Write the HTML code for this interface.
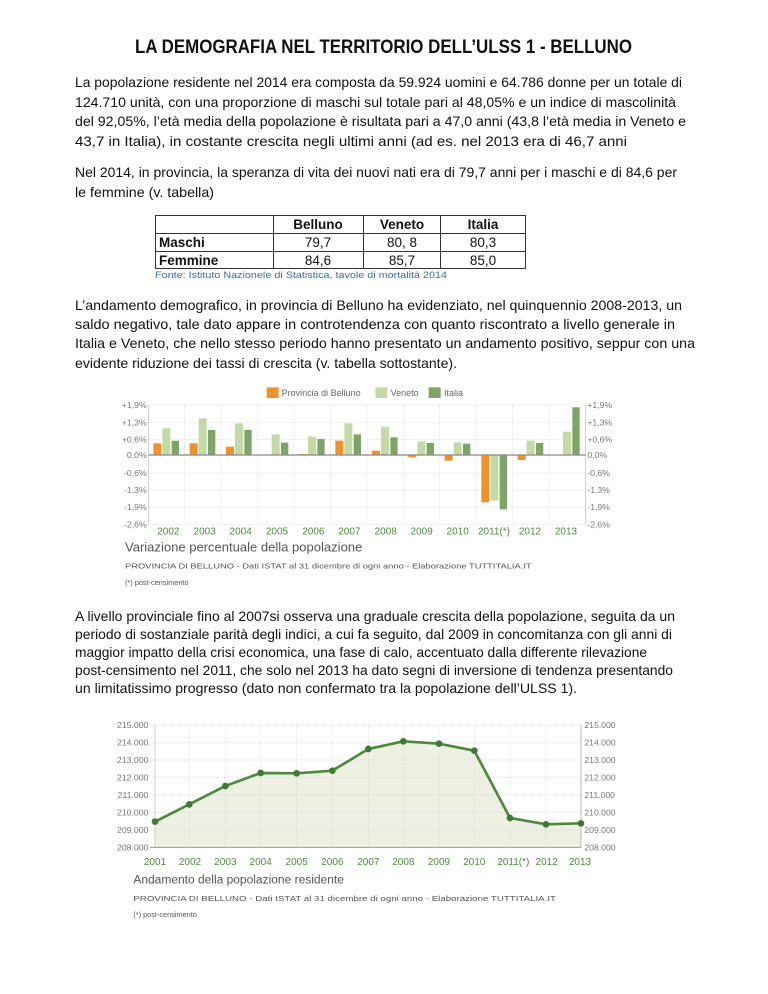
<!DOCTYPE html>
<html><head><meta charset="utf-8"><style>html,body{margin:0;padding:0;background:#fff}svg{display:block}</style></head><body>
<svg width="768" height="994" viewBox="0 0 768 994" xmlns="http://www.w3.org/2000/svg" font-family="Liberation Sans, sans-serif">
<g fill="#111" font-size="14">
<text x="135" y="53" font-size="19" font-weight="bold" textLength="497" lengthAdjust="spacingAndGlyphs">LA DEMOGRAFIA NEL TERRITORIO DELL’ULSS 1 - BELLUNO</text>
<text x="75" y="87" textLength="607" lengthAdjust="spacingAndGlyphs">La popolazione residente nel 2014 era composta da 59.924 uomini e 64.786 donne per un totale di</text>
<text x="75" y="107" textLength="601" lengthAdjust="spacingAndGlyphs">124.710 unità, con una proporzione di maschi sul totale pari al 48,05% e un indice di mascolinità</text>
<text x="75" y="126" textLength="611" lengthAdjust="spacingAndGlyphs">del 92,05%, l’età media della popolazione è risultata pari a 47,0 anni (43,8 l’età media in Veneto e</text>
<text x="75" y="146" textLength="552" lengthAdjust="spacingAndGlyphs">43,7 in Italia), in costante crescita negli ultimi anni (ad es. nel 2013 era di 46,7 anni</text>
<text x="75" y="177" textLength="602" lengthAdjust="spacingAndGlyphs">Nel 2014, in provincia, la speranza di vita dei nuovi nati era di 79,7 anni per i maschi e di 84,6 per</text>
<text x="75" y="197" textLength="139" lengthAdjust="spacingAndGlyphs">le femmine (v. tabella)</text>
<text x="75" y="310" textLength="607" lengthAdjust="spacingAndGlyphs">L’andamento demografico, in provincia di Belluno ha evidenziato, nel quinquennio 2008-2013, un</text>
<text x="75" y="329" textLength="600" lengthAdjust="spacingAndGlyphs">saldo negativo, tale dato appare in controtendenza con quanto riscontrato a livello generale in</text>
<text x="75" y="348" textLength="620" lengthAdjust="spacingAndGlyphs">Italia e Veneto, che nello stesso periodo hanno presentato un andamento positivo, seppur con una</text>
<text x="75" y="368" textLength="382" lengthAdjust="spacingAndGlyphs">evidente riduzione dei tassi di crescita (v. tabella sottostante).</text>
<text x="75" y="621" textLength="600" lengthAdjust="spacingAndGlyphs">A livello provinciale fino al 2007si osserva una graduale crescita della popolazione, seguita da un</text>
<text x="75" y="639" textLength="597" lengthAdjust="spacingAndGlyphs">periodo di sostanziale parità degli indici, a cui fa seguito, dal 2009 in concomitanza con gli anni di</text>
<text x="75" y="657" textLength="572" lengthAdjust="spacingAndGlyphs">maggior impatto della crisi economica, una fase di calo, accentuato dalla differente rilevazione</text>
<text x="75" y="675" textLength="598" lengthAdjust="spacingAndGlyphs">post-censimento nel 2011, che solo nel 2013 ha dato segni di inversione di tendenza presentando</text>
<text x="75" y="693" textLength="502" lengthAdjust="spacingAndGlyphs">un limitatissimo progresso (dato non confermato tra la popolazione dell’ULSS 1).</text>
</g>
<!-- table -->
<g stroke="#333" stroke-width="1" fill="none">
<rect x="155.5" y="215.5" width="370" height="53"/>
<line x1="155" y1="233.5" x2="526" y2="233.5"/>
<line x1="155" y1="251.5" x2="526" y2="251.5"/>
<line x1="273.5" y1="215" x2="273.5" y2="269"/>
<line x1="363.5" y1="215" x2="363.5" y2="269"/>
<line x1="440.5" y1="215" x2="440.5" y2="269"/>
</g>
<g font-size="13.5" fill="#111" text-anchor="middle">
<text x="318" y="229" font-weight="bold">Belluno</text>
<text x="402" y="229" font-weight="bold">Veneto</text>
<text x="483" y="229" font-weight="bold">Italia</text>
<text x="318" y="247">79,7</text><text x="402" y="247">80, 8</text><text x="483" y="247">80,3</text>
<text x="318" y="265">84,6</text><text x="402" y="265">85,7</text><text x="483" y="265">85,0</text>
<text x="159" y="247" text-anchor="start" font-weight="bold">Maschi</text>
<text x="159" y="265" text-anchor="start" font-weight="bold">Femmine</text>
</g>
<text x="155" y="278" font-size="9.5" fill="#3a6ea5" textLength="292" lengthAdjust="spacingAndGlyphs">Fonte: Istituto Nazionele di Statistica, tavole di mortalità 2014</text>

<!-- chart 1 -->
<g transform="translate(100,380) scale(0.33333)">
<rect x="500" y="22" width="36" height="32" fill="#f0922c"/>
<text x="545" y="48" font-size="27" fill="#666">Provincia di Belluno</text>
<rect x="826" y="22" width="36" height="32" fill="#c3d9a6"/>
<text x="872" y="48" font-size="27" fill="#666">Veneto</text>
<rect x="986" y="22" width="36" height="32" fill="#7fa566"/>
<text x="1032" y="48" font-size="27" fill="#666">Italia</text>
<g stroke="#d4d4d4" stroke-width="2" stroke-dasharray="3,3">
<line x1="145" y1="75" x2="1457" y2="75"/><line x1="145" y1="127" x2="1457" y2="127"/>
<line x1="145" y1="178" x2="1457" y2="178"/><line x1="145" y1="279" x2="1457" y2="279"/>
<line x1="145" y1="330" x2="1457" y2="330"/><line x1="145" y1="381" x2="1457" y2="381"/>
<line x1="145" y1="433" x2="1457" y2="433"/>
<line x1="254" y1="75" x2="254" y2="433"/><line x1="363" y1="75" x2="363" y2="433"/>
<line x1="473" y1="75" x2="473" y2="433"/><line x1="582" y1="75" x2="582" y2="433"/>
<line x1="691" y1="75" x2="691" y2="433"/><line x1="801" y1="75" x2="801" y2="433"/>
<line x1="910" y1="75" x2="910" y2="433"/><line x1="1019" y1="75" x2="1019" y2="433"/>
<line x1="1129" y1="75" x2="1129" y2="433"/><line x1="1238" y1="75" x2="1238" y2="433"/>
<line x1="1347" y1="75" x2="1347" y2="433"/>
</g>
<line x1="145" y1="75" x2="145" y2="433" stroke="#bbb" stroke-width="2"/>
<line x1="1457" y1="75" x2="1457" y2="433" stroke="#bbb" stroke-width="2"/>
<g>
<rect x="160" y="190" width="24" height="35" fill="#f0922c"/><rect x="187" y="145" width="24" height="80" fill="#c3d9a6"/><rect x="215" y="182" width="22" height="43" fill="#7fa566"/>
<rect x="269" y="190" width="24" height="35" fill="#f0922c"/><rect x="296" y="115" width="24" height="110" fill="#c3d9a6"/><rect x="324" y="150" width="22" height="75" fill="#7fa566"/>
<rect x="378" y="200" width="24" height="25" fill="#f0922c"/><rect x="405" y="130" width="24" height="95" fill="#c3d9a6"/><rect x="433" y="150" width="22" height="75" fill="#7fa566"/>
<rect x="488" y="224" width="24" height="2" fill="#f0922c"/><rect x="515" y="163" width="24" height="62" fill="#c3d9a6"/><rect x="543" y="188" width="22" height="37" fill="#7fa566"/>
<rect x="597" y="222" width="24" height="3" fill="#f0922c"/><rect x="624" y="170" width="24" height="55" fill="#c3d9a6"/><rect x="652" y="177" width="22" height="48" fill="#7fa566"/>
<rect x="706" y="182" width="24" height="43" fill="#f0922c"/><rect x="733" y="130" width="24" height="95" fill="#c3d9a6"/><rect x="761" y="163" width="22" height="62" fill="#7fa566"/>
<rect x="816" y="212" width="24" height="13" fill="#f0922c"/><rect x="843" y="140" width="24" height="85" fill="#c3d9a6"/><rect x="871" y="172" width="22" height="53" fill="#7fa566"/>
<rect x="925" y="225" width="24" height="7" fill="#f0922c"/><rect x="952" y="184" width="24" height="41" fill="#c3d9a6"/><rect x="980" y="189" width="22" height="36" fill="#7fa566"/>
<rect x="1034" y="225" width="24" height="17" fill="#f0922c"/><rect x="1061" y="187" width="24" height="38" fill="#c3d9a6"/><rect x="1089" y="191" width="22" height="34" fill="#7fa566"/>
<rect x="1144" y="225" width="24" height="142" fill="#f0922c"/><rect x="1171" y="225" width="24" height="137" fill="#c3d9a6"/><rect x="1199" y="225" width="22" height="163" fill="#7fa566"/>
<rect x="1253" y="225" width="24" height="15" fill="#f0922c"/><rect x="1280" y="182" width="24" height="43" fill="#c3d9a6"/><rect x="1308" y="189" width="22" height="36" fill="#7fa566"/>
<rect x="1362" y="224" width="24" height="2" fill="#f0922c"/><rect x="1389" y="155" width="24" height="70" fill="#c3d9a6"/><rect x="1417" y="82" width="22" height="143" fill="#7fa566"/>
</g>
<line x1="145" y1="225" x2="1457" y2="225" stroke="#888" stroke-width="4"/>
<g font-size="26" fill="#777" text-anchor="end">
<text x="140" y="84">+1,9%</text><text x="140" y="136">+1,3%</text><text x="140" y="187">+0,6%</text><text x="140" y="234">0,0%</text>
<text x="140" y="288">-0,6%</text><text x="140" y="339">-1,3%</text><text x="140" y="390">-1,9%</text><text x="140" y="442">-2,6%</text>
</g>
<g font-size="26" fill="#777">
<text x="1462" y="84">+1,9%</text><text x="1462" y="136">+1,3%</text><text x="1462" y="187">+0,6%</text><text x="1462" y="234">0,0%</text>
<text x="1462" y="288">-0,6%</text><text x="1462" y="339">-1,3%</text><text x="1462" y="390">-1,9%</text><text x="1462" y="442">-2,6%</text>
</g>
<g font-size="30" fill="#4e8a3e" text-anchor="middle">
<text x="205" y="463">2002</text><text x="314" y="463">2003</text><text x="422" y="463">2004</text><text x="531" y="463">2005</text>
<text x="640" y="463">2006</text><text x="748" y="463">2007</text><text x="857" y="463">2008</text><text x="965" y="463">2009</text>
<text x="1073" y="463">2010</text><text x="1182" y="463">2011(*)</text><text x="1290" y="463">2012</text><text x="1398" y="463">2013</text>
</g>
<text x="75" y="515" font-size="38" fill="#555" textLength="712" lengthAdjust="spacingAndGlyphs">Variazione percentuale della popolazione</text>
<text x="75" y="566" font-size="23" fill="#555" textLength="1220" lengthAdjust="spacingAndGlyphs">PROVINCIA DI BELLUNO - Dati ISTAT al 31 dicembre di ogni anno - Elaborazione TUTTITALIA.IT</text>
<text x="75" y="615" font-size="22" fill="#555">(*) post-censimento</text>
</g>

<!-- chart 2 -->
<g transform="translate(100,710) scale(0.33333)">
<polygon points="165,335 268,283 376,228 482,189 590,190 697,182 805,117 910,94 1017,101 1123,122 1230,324 1338,343 1443,340 1443,412 165,412" fill="#eef1e2"/>
<g stroke="#d4d4d4" stroke-width="2" stroke-dasharray="3,3">
<line x1="150" y1="45" x2="1443" y2="45"/><line x1="150" y1="97" x2="1443" y2="97"/>
<line x1="150" y1="150" x2="1443" y2="150"/><line x1="150" y1="202" x2="1443" y2="202"/>
<line x1="150" y1="255" x2="1443" y2="255"/><line x1="150" y1="307" x2="1443" y2="307"/>
<line x1="150" y1="360" x2="1443" y2="360"/>
<line x1="268" y1="45" x2="268" y2="412"/><line x1="376" y1="45" x2="376" y2="412"/>
<line x1="482" y1="45" x2="482" y2="412"/><line x1="590" y1="45" x2="590" y2="412"/>
<line x1="697" y1="45" x2="697" y2="412"/><line x1="805" y1="45" x2="805" y2="412"/>
<line x1="910" y1="45" x2="910" y2="412"/><line x1="1017" y1="45" x2="1017" y2="412"/>
<line x1="1123" y1="45" x2="1123" y2="412"/><line x1="1230" y1="45" x2="1230" y2="412"/>
<line x1="1338" y1="45" x2="1338" y2="412"/>
</g>
<line x1="165" y1="45" x2="165" y2="412" stroke="#bbb" stroke-width="2"/>
<line x1="1443" y1="45" x2="1443" y2="412" stroke="#bbb" stroke-width="3"/>
<line x1="150" y1="412" x2="1443" y2="412" stroke="#999" stroke-width="3"/>
<polyline points="165,335 268,283 376,228 482,189 590,190 697,182 805,117 910,94 1017,101 1123,122 1230,324 1338,343 1443,340" fill="none" stroke="#4e8a3e" stroke-width="8" stroke-linejoin="round"/>
<g fill="#3f7a32">
<circle cx="165" cy="335" r="10"/><circle cx="268" cy="283" r="10"/><circle cx="376" cy="228" r="10"/><circle cx="482" cy="189" r="10"/>
<circle cx="590" cy="190" r="10"/><circle cx="697" cy="182" r="10"/><circle cx="805" cy="117" r="10"/><circle cx="910" cy="94" r="10"/>
<circle cx="1017" cy="101" r="10"/><circle cx="1123" cy="122" r="10"/><circle cx="1230" cy="324" r="10"/><circle cx="1338" cy="343" r="10"/><circle cx="1443" cy="340" r="10"/>
</g>
<g font-size="26" fill="#777" text-anchor="end">
<text x="145" y="54">215.000</text><text x="145" y="106">214.000</text><text x="145" y="159">213.000</text><text x="145" y="211">212.000</text>
<text x="145" y="264">211.000</text><text x="145" y="316">210.000</text><text x="145" y="369">209.000</text><text x="145" y="421">208.000</text>
</g>
<g font-size="26" fill="#777">
<text x="1453" y="54">215.000</text><text x="1453" y="106">214.000</text><text x="1453" y="159">213.000</text><text x="1453" y="211">212.000</text>
<text x="1453" y="264">211.000</text><text x="1453" y="316">210.000</text><text x="1453" y="369">209.000</text><text x="1453" y="421">208.000</text>
</g>
<g font-size="30" fill="#4e8a3e" text-anchor="middle">
<text x="165" y="465">2001</text><text x="270" y="465">2002</text><text x="376" y="465">2003</text><text x="482" y="465">2004</text>
<text x="590" y="465">2005</text><text x="697" y="465">2006</text><text x="805" y="465">2007</text><text x="910" y="465">2008</text>
<text x="1017" y="465">2009</text><text x="1123" y="465">2010</text><text x="1240" y="465">2011(*)</text><text x="1340" y="465">2012</text><text x="1440" y="465">2013</text>
</g>
<text x="100" y="521" font-size="36" fill="#555">Andamento della popolazione residente</text>
<text x="100" y="573" font-size="23" fill="#555" textLength="1268" lengthAdjust="spacingAndGlyphs">PROVINCIA DI BELLUNO - Dati ISTAT al 31 dicembre di ogni anno - Elaborazione TUTTITALIA.IT</text>
<text x="100" y="621" font-size="22" fill="#555">(*) post-censimento</text>
</g>
</svg>
</body></html>
